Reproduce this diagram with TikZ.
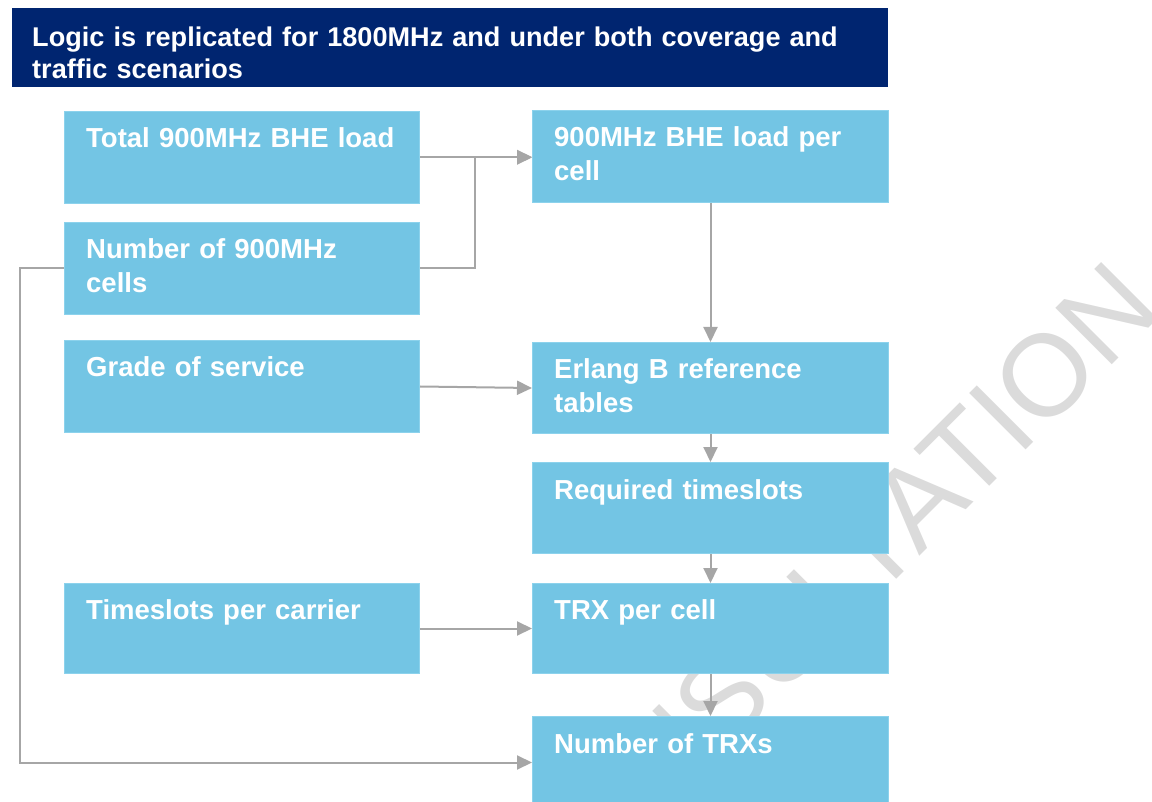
\documentclass[tikz,border=0pt]{standalone}
\usepackage{fontspec}
\setmainfont{Liberation Sans}
\usetikzlibrary{arrows.meta}

\definecolor{navyhead}{RGB}{0,37,112}
\definecolor{boxblue}{RGB}{115,197,228}
\definecolor{boxedge}{RGB}{140,210,236}
\definecolor{linegray}{RGB}{166,166,166}
\definecolor{markgray}{RGB}{219,219,219}

\begin{document}
\begin{tikzpicture}[x=1pt,y=-1pt,
    box/.style={draw=boxedge, line width=1pt, fill=boxblue, anchor=north west,
      minimum width=355pt, minimum height=92pt, inner sep=0pt},
    boxtext/.style={anchor=base west, text width=330pt, align=left, inner sep=0pt,
      text=white, font=\fontsize{27.5}{34}\selectfont\bfseries},
    link/.style={draw=linegray, line width=2pt, -{Triangle[length=15pt,width=14pt]}}]

      \useasboundingbox (0,0) rectangle (1152,802);
      \clip (0,0) rectangle (1152,802);

      \node[text=markgray, rotate=45, inner sep=0pt,
        font=\fontsize{116}{116}\selectfont] (wmark) at (824,596) {CONSULTATION};

      \node[fill=navyhead, anchor=north west, minimum width=876pt,
        minimum height=79pt, inner sep=0pt] (head) at (12,8) {};
      \node[boxtext, text width=850pt, font=\fontsize{27.1}{32}\selectfont\bfseries]
        (head-t) at (32,47) {Logic is replicated for 1800MHz and under both coverage and\\traffic scenarios};


      \node[box] (tot) at (64,111) {};
      \node[boxtext] (tot-t) at (86,148) {Total 900MHz BHE load};

      \node[box] (ncell) at (64,222) {};
      \node[boxtext] (ncell-t) at (86,259) {Number of 900MHz\\cells};

      \node[box] (gos) at (64,340) {};
      \node[boxtext] (gos-t) at (86,377) {Grade of service};

      \node[box, minimum height=90pt] (tpc) at (64,583) {};
      \node[boxtext] (tpc-t) at (86,619) {Timeslots per carrier};


      \node[box, minimum width=356pt] (load) at (532,110) {};
      \node[boxtext] (load-t) at (554,147) {900MHz BHE load per\\cell};

      \node[box, minimum width=356pt, minimum height=91pt] (erl) at (532,342) {};
      \node[boxtext] (erl-t) at (554,379) {Erlang B reference\\tables};

      \node[box, minimum width=356pt, minimum height=91pt] (req) at (532,462) {};
      \node[boxtext] (req-t) at (554,499) {Required timeslots};

      \node[box, minimum width=356pt, minimum height=90pt] (trx) at (532,583) {};
      \node[boxtext] (trx-t) at (554,619) {TRX per cell};

      \node[box, minimum width=356pt] (ntrx) at (532,716) {};
      \node[boxtext] (ntrx-t) at (554,753) {Number of TRXs};


      \coordinate (join) at (475,157);
      \coordinate (side) at (20,500);

      \draw[link] (tot.east) -- (tot.east -| load.west);
      \draw[link] (ncell.east) -| (join) -- (join -| load.west);
      \draw[link] (load.south) -- (erl.north);
      \draw[link] (gos.east) -- (erl.west);
      \draw[link] (erl.south) -- (req.north);
      \draw[link] (req.south) -- (trx.north);
      \draw[link] (tpc.east) -- (trx.west);
      \draw[link] (trx.south) -- (ntrx.north);
      \draw[link] (ncell.west) -| (side) |- (ntrx.west);

    \end{tikzpicture}
\end{document}
